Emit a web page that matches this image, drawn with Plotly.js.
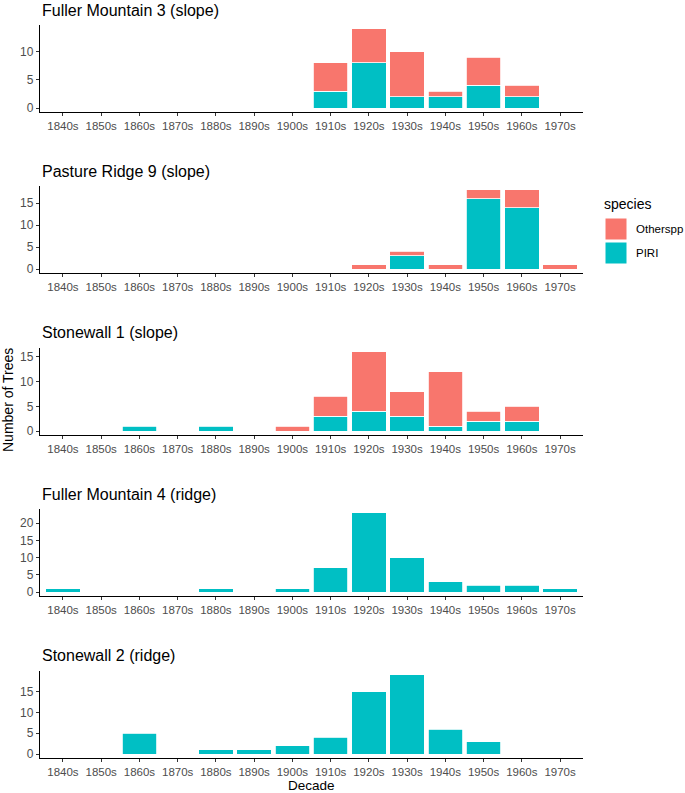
<!DOCTYPE html>
<html>
<head>
<meta charset="utf-8">
<script src="https://cdn.plot.ly/plotly-3.0.1.min.js"></script>
<style>html,body{margin:0;padding:0;background:#fff;}#chart{width:685px;height:793px;}</style>
</head>
<body>
<div id="chart"></div>
<script>
// ---- data ----
const decades = ["1840s","1850s","1860s","1870s","1880s","1890s","1900s","1910s","1920s","1930s","1940s","1950s","1960s","1970s"];
const sites = ["Fuller Mountain 3 (slope)","Pasture Ridge 9 (slope)","Stonewall 1 (slope)","Fuller Mountain 4 (ridge)","Stonewall 2 (ridge)"];
const species = ["Otherspp","PIRI"];

const piri_FM3   = [0,0,0,0,0,0,0,3,8,2,2,4,2,0];
const other_FM3  = [0,0,0,0,0,0,0,5,6,8,1,5,2,0];
const piri_PR9   = [0,0,0,0,0,0,0,0,0,3,0,16,14,0];
const other_PR9  = [0,0,0,0,0,0,0,0,1,1,1,2,4,1];
const piri_SW1   = [0,0,1,0,1,0,0,3,4,3,1,2,2,0];
const other_SW1  = [0,0,0,0,0,0,1,4,12,5,11,2,3,0];
const piri_FM4   = [1,0,0,0,1,0,1,7,23,10,3,2,2,1];
const other_FM4  = [0,0,0,0,0,0,0,0,0,0,0,0,0,0];
const piri_SW2   = [0,0,5,0,1,1,2,4,15,19,6,3,0,0];
const other_SW2  = [0,0,0,0,0,0,0,0,0,0,0,0,0,0];

const piriBySite  = [piri_FM3, piri_PR9, piri_SW1, piri_FM4, piri_SW2];
const otherBySite = [other_FM3, other_PR9, other_SW1, other_FM4, other_SW2];

// ---- styling / layout ----
const COL = {PIRI: "#00BFC4", Otherspp: "#F8766D"};
const H = 793, W = 685, ML = 40, MR = 102;
const PW = W - ML - MR;
const panelBottom0 = 112, panelStep = 161.4, panelH = 87, titleY0 = 10;
const FONT = "Liberation Sans, Arial, sans-serif";

const nz = a => a.map(v => v === 0 ? null : v);
const data = [];
const layout = {
  width: W, height: H,
  margin: {l: ML, r: MR, t: 0, b: 0, pad: 0},
  paper_bgcolor: "#fff", plot_bgcolor: "#fff",
  barmode: "stack", bargap: 0.1,
  showlegend: false,
  font: {family: FONT, color: "#000"},
  annotations: [], shapes: []
};

sites.forEach((site, i) => {
  const sfx = i === 0 ? "" : String(i + 1);
  const xa = "x" + sfx, ya = "y" + sfx;
  const totals = piriBySite[i].map((v, k) => v + otherBySite[i][k]);
  const ymax = Math.max(...totals);
  const pad = ymax * 0.05;
  const bottom = Math.round(panelBottom0 + i * panelStep);
  const top = bottom - panelH;

  data.push({
    type: "bar", name: "PIRI", x: decades, y: nz(piriBySite[i]),
    xaxis: xa, yaxis: ya, width: 0.9,
    marker: {color: COL.PIRI, line: {color: "#fff", width: 0.8}},
    hoverinfo: "x+y+name"
  });
  data.push({
    type: "bar", name: "Otherspp", x: decades, y: nz(otherBySite[i]),
    xaxis: xa, yaxis: ya, width: 0.9,
    marker: {color: COL.Otherspp, line: {color: "#fff", width: 0.8}},
    hoverinfo: "x+y+name"
  });

  layout["xaxis" + sfx] = {
    type: "category", categoryorder: "array", categoryarray: decades,
    range: [-0.6, decades.length - 0.4],
    anchor: ya, domain: [0, 1],
    showline: true, linecolor: "#000", linewidth: 1.2,
    ticks: "outside", ticklen: 3, tickwidth: 1, tickcolor: "#333",
    showgrid: false, zeroline: false, fixedrange: true,
    tickfont: {family: FONT, size: 11.5, color: "#4D4D4D"}
  };
  layout["yaxis" + sfx] = {
    range: [-pad, ymax + pad], dtick: 5, tick0: 0,
    anchor: xa, domain: [1 - bottom / H, 1 - top / H],
    showline: true, linecolor: "#000", linewidth: 1.2,
    ticks: "outside", ticklen: 3, tickwidth: 1, tickcolor: "#333",
    showgrid: false, zeroline: false, fixedrange: true,
    tickfont: {family: FONT, size: 12, color: "#4D4D4D"}
  };

  layout.annotations.push({
    text: site, xref: "paper", yref: "paper",
    x: 0, y: 1 - (titleY0 + i * panelStep) / H,
    xanchor: "left", yanchor: "middle", showarrow: false,
    font: {family: FONT, size: 16, color: "#000"}
  });
});

// axis titles
layout.annotations.push({
  text: "Number of Trees", xref: "paper", yref: "paper",
  x: (8 - ML) / PW, y: 1 - 400 / H, textangle: -90,
  xanchor: "center", yanchor: "middle", showarrow: false,
  font: {family: FONT, size: 14, color: "#000"}
});
layout.annotations.push({
  text: "Decade", xref: "paper", yref: "paper",
  x: 0.5, y: 1 - 785 / H, borderpad: 0,
  xanchor: "center", yanchor: "middle", showarrow: false,
  font: {family: FONT, size: 13.5, color: "#000"}
});

// legend (drawn as keys + labels)
const px = v => (v - ML) / PW, py = v => 1 - v / H;
layout.annotations.push({
  text: "species", xref: "paper", yref: "paper", x: px(602), y: py(204),
  xanchor: "left", yanchor: "middle", showarrow: false,
  font: {family: FONT, size: 14, color: "#000"}
});
species.forEach((sp, k) => {
  const y0 = 218 + k * 24;
  layout.shapes.push({
    type: "rect", xref: "paper", yref: "paper",
    x0: px(605), x1: px(627), y0: py(y0), y1: py(y0 + 22),
    fillcolor: COL[sp], line: {color: "#fff", width: 1}
  });
  layout.annotations.push({
    text: sp, xref: "paper", yref: "paper", x: px(634), y: py(y0 + 11),
    xanchor: "left", yanchor: "middle", showarrow: false,
    font: {family: FONT, size: 11.5, color: "#000"}
  });
});

Plotly.newPlot("chart", data, layout, {displayModeBar: false, staticPlot: true});
</script>
</body>
</html>
